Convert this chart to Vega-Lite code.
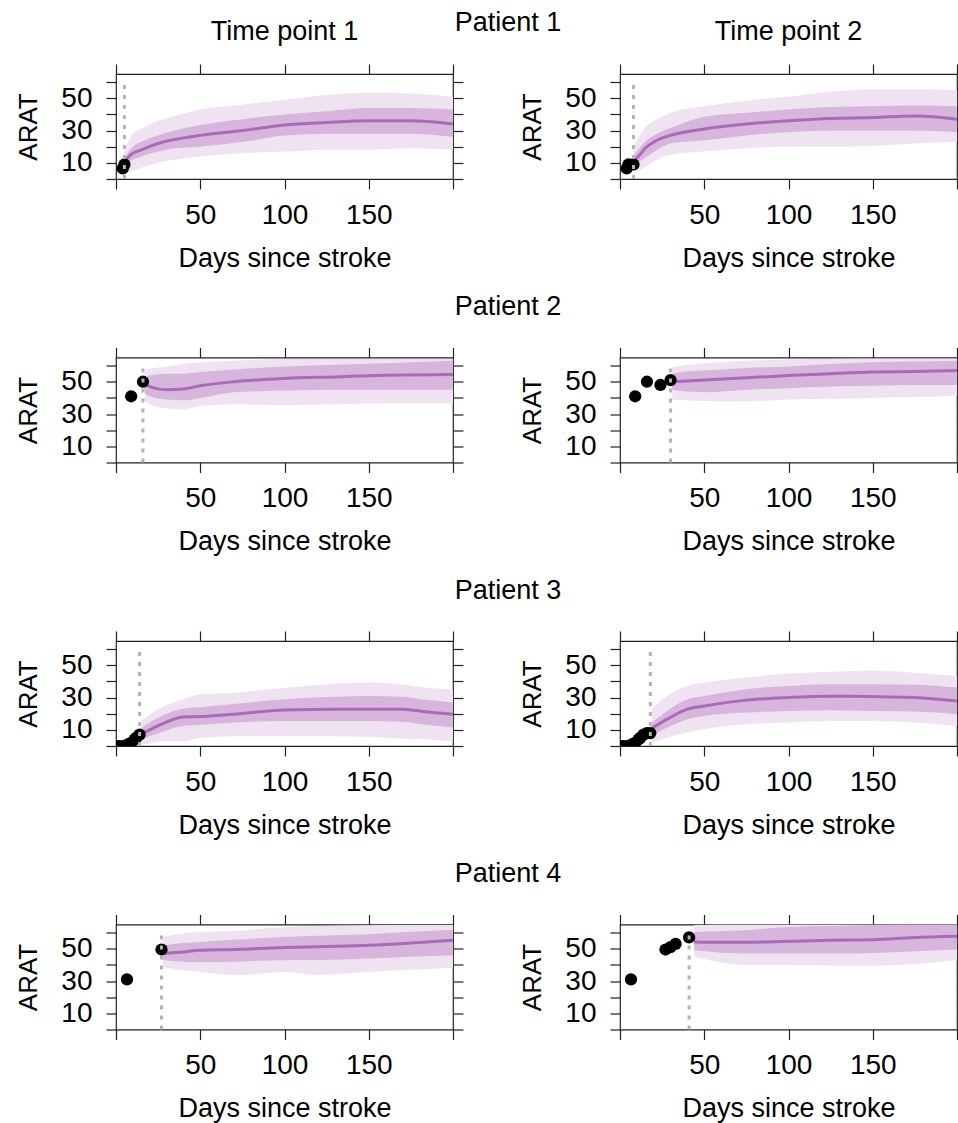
{
"$schema": "https://vega.github.io/schema/vega-lite/v6.json",
"padding": {"left": 14, "top": 8, "right": 0, "bottom": 0},
"config": {
  "font": "Liberation Sans",
  "view": {"stroke": "#222", "strokeWidth": 1.2},
  "axis": {"grid": false, "domain": false, "tickColor": "#222", "tickSize": 10, "tickWidth": 1.2, "labelFontSize": 28, "labelColor": "#000", "titleFontSize": 27, "titleFontWeight": "normal", "titleColor": "#000", "labelFont": "Liberation Sans", "titleFont": "Liberation Sans"},
  "title": {"fontSize": 27, "fontWeight": "normal", "color": "#000", "font": "Liberation Sans"},
  "area": {"interpolate": "monotone"},
  "line": {"interpolate": "monotone"}
},
"datasets": {
  "bands": [
    {"p":1,"t":1,"day":5,"lo95":4,"lo50":9,"med":11,"hi50":13,"hi95":17},
    {"p":1,"t":1,"day":10,"lo95":5,"lo50":12,"med":16,"hi50":20,"hi95":28},
    {"p":1,"t":1,"day":15,"lo95":7,"lo50":14,"med":18,"hi50":23,"hi95":31},
    {"p":1,"t":1,"day":25,"lo95":10,"lo50":17,"med":22,"hi50":27,"hi95":36},
    {"p":1,"t":1,"day":35,"lo95":12,"lo50":19,"med":24.5,"hi50":30,"hi95":39},
    {"p":1,"t":1,"day":50,"lo95":14,"lo50":20,"med":27,"hi50":33.5,"hi95":43},
    {"p":1,"t":1,"day":75,"lo95":16,"lo50":23,"med":30,"hi50":37,"hi95":46},
    {"p":1,"t":1,"day":100,"lo95":17,"lo50":27,"med":33.5,"hi50":40,"hi95":49},
    {"p":1,"t":1,"day":125,"lo95":18,"lo50":28,"med":35,"hi50":42,"hi95":52},
    {"p":1,"t":1,"day":150,"lo95":18,"lo50":28,"med":36,"hi50":44,"hi95":53.5},
    {"p":1,"t":1,"day":175,"lo95":19,"lo50":28,"med":36,"hi50":44,"hi95":53},
    {"p":1,"t":1,"day":200,"lo95":18,"lo50":26,"med":34,"hi50":43,"hi95":51},

    {"p":1,"t":2,"day":8,"lo95":5,"lo50":9,"med":11,"hi50":14,"hi95":20},
    {"p":1,"t":2,"day":10,"lo95":5,"lo50":10,"med":13,"hi50":17,"hi95":24},
    {"p":1,"t":2,"day":16,"lo95":8,"lo50":14,"med":20,"hi50":24,"hi95":33},
    {"p":1,"t":2,"day":22,"lo95":12,"lo50":18,"med":24,"hi50":28,"hi95":37},
    {"p":1,"t":2,"day":30,"lo95":15,"lo50":22,"med":27,"hi50":31.5,"hi95":41},
    {"p":1,"t":2,"day":50,"lo95":17,"lo50":24,"med":31,"hi50":38.5,"hi95":45},
    {"p":1,"t":2,"day":75,"lo95":19,"lo50":27,"med":34,"hi50":41,"hi95":48.5},
    {"p":1,"t":2,"day":100,"lo95":20,"lo50":29,"med":36,"hi50":43,"hi95":51},
    {"p":1,"t":2,"day":125,"lo95":20,"lo50":30,"med":37.5,"hi50":44.5,"hi95":54},
    {"p":1,"t":2,"day":150,"lo95":20.5,"lo50":30,"med":38,"hi50":45,"hi95":55.5},
    {"p":1,"t":2,"day":175,"lo95":22,"lo50":30,"med":39,"hi50":45.5,"hi95":55.5},
    {"p":1,"t":2,"day":200,"lo95":23,"lo50":29,"med":37,"hi50":45,"hi95":55},

    {"p":2,"t":1,"day":17,"lo95":38,"lo50":43,"med":49,"hi50":52,"hi95":57},
    {"p":2,"t":1,"day":20,"lo95":36,"lo50":41,"med":47,"hi50":54,"hi95":58},
    {"p":2,"t":1,"day":30,"lo95":33.5,"lo50":39,"med":45,"hi50":55,"hi95":59.5},
    {"p":2,"t":1,"day":40,"lo95":33,"lo50":38.5,"med":45.5,"hi50":55,"hi95":61},
    {"p":2,"t":1,"day":50,"lo95":35,"lo50":40,"med":47.5,"hi50":56,"hi95":62},
    {"p":2,"t":1,"day":70,"lo95":36,"lo50":43.5,"med":50,"hi50":57.5,"hi95":63},
    {"p":2,"t":1,"day":100,"lo95":35.5,"lo50":44.5,"med":52,"hi50":59.5,"hi95":64},
    {"p":2,"t":1,"day":130,"lo95":36,"lo50":45,"med":53,"hi50":60.5,"hi95":64},
    {"p":2,"t":1,"day":160,"lo95":36.5,"lo50":45,"med":54,"hi50":61.5,"hi95":64},
    {"p":2,"t":1,"day":200,"lo95":36.5,"lo50":45,"med":54.5,"hi50":63,"hi95":64},

    {"p":2,"t":2,"day":31,"lo95":39,"lo50":45,"med":50,"hi50":55,"hi95":59},
    {"p":2,"t":2,"day":40,"lo95":38.5,"lo50":44,"med":50.5,"hi50":56.5,"hi95":60.5},
    {"p":2,"t":2,"day":50,"lo95":38,"lo50":43.5,"med":51,"hi50":57,"hi95":61.5},
    {"p":2,"t":2,"day":75,"lo95":37.8,"lo50":45,"med":52.5,"hi50":58.5,"hi95":63},
    {"p":2,"t":2,"day":100,"lo95":39,"lo50":46,"med":53.8,"hi50":59.5,"hi95":63.8},
    {"p":2,"t":2,"day":125,"lo95":39.5,"lo50":47,"med":55,"hi50":61,"hi95":64},
    {"p":2,"t":2,"day":150,"lo95":40,"lo50":47.5,"med":56,"hi50":62,"hi95":64.2},
    {"p":2,"t":2,"day":175,"lo95":40.5,"lo50":48,"med":56.3,"hi50":62.5,"hi95":64.2},
    {"p":2,"t":2,"day":200,"lo95":41.5,"lo50":48,"med":57,"hi50":63,"hi95":64.2},

    {"p":3,"t":1,"day":15,"lo95":1,"lo50":4,"med":7.5,"hi50":11,"hi95":16},
    {"p":3,"t":1,"day":20,"lo95":1.5,"lo50":6,"med":10,"hi50":14.5,"hi95":19.5},
    {"p":3,"t":1,"day":27,"lo95":3,"lo50":8.5,"med":13.5,"hi50":18.5,"hi95":24},
    {"p":3,"t":1,"day":40,"lo95":3,"lo50":12.5,"med":18,"hi50":23,"hi95":29},
    {"p":3,"t":1,"day":50,"lo95":5,"lo50":13,"med":18.2,"hi50":24,"hi95":32},
    {"p":3,"t":1,"day":70,"lo95":6,"lo50":14.5,"med":19.7,"hi50":26,"hi95":33},
    {"p":3,"t":1,"day":100,"lo95":6,"lo50":15.5,"med":22.3,"hi50":29,"hi95":36},
    {"p":3,"t":1,"day":130,"lo95":6,"lo50":15.5,"med":22.8,"hi50":30.5,"hi95":38.5},
    {"p":3,"t":1,"day":150,"lo95":5.5,"lo50":15.5,"med":22.8,"hi50":31,"hi95":39.5},
    {"p":3,"t":1,"day":170,"lo95":4.5,"lo50":15,"med":22.8,"hi50":30.5,"hi95":38},
    {"p":3,"t":1,"day":185,"lo95":4,"lo50":13,"med":21,"hi50":28.5,"hi95":36},
    {"p":3,"t":1,"day":200,"lo95":3,"lo50":11.5,"med":19.7,"hi50":27,"hi95":35},

    {"p":3,"t":2,"day":19,"lo95":2,"lo50":6.2,"med":11,"hi50":14.5,"hi95":23},
    {"p":3,"t":2,"day":28,"lo95":5.2,"lo50":11.4,"med":16.6,"hi50":21.7,"hi95":31},
    {"p":3,"t":2,"day":40,"lo95":8.3,"lo50":16.6,"med":22.8,"hi50":29,"hi95":37.2},
    {"p":3,"t":2,"day":50,"lo95":10.3,"lo50":18.6,"med":24.8,"hi50":31,"hi95":39.3},
    {"p":3,"t":2,"day":75,"lo95":13.4,"lo50":20.7,"med":28.4,"hi50":35.2,"hi95":42.4},
    {"p":3,"t":2,"day":100,"lo95":14.5,"lo50":21.7,"med":30,"hi50":37.2,"hi95":44.9},
    {"p":3,"t":2,"day":125,"lo95":15.5,"lo50":22.1,"med":30.8,"hi50":38.3,"hi95":46},
    {"p":3,"t":2,"day":150,"lo95":15.5,"lo50":21.7,"med":30.6,"hi50":38.3,"hi95":46.8},
    {"p":3,"t":2,"day":175,"lo95":14.5,"lo50":21.3,"med":30,"hi50":37.9,"hi95":45.4},
    {"p":3,"t":2,"day":200,"lo95":12.4,"lo50":19.7,"med":27.9,"hi50":36.2,"hi95":43.4},

    {"p":4,"t":1,"day":28,"lo95":38.5,"lo50":43,"med":47,"hi50":52,"hi95":57.5},
    {"p":4,"t":1,"day":40,"lo95":36.5,"lo50":42,"med":48,"hi50":53.5,"hi95":59.5},
    {"p":4,"t":1,"day":50,"lo95":35.6,"lo50":41.8,"med":49,"hi50":54.2,"hi95":60.4},
    {"p":4,"t":1,"day":70,"lo95":33.6,"lo50":42,"med":49.5,"hi50":55.5,"hi95":61},
    {"p":4,"t":1,"day":100,"lo95":35.6,"lo50":42.9,"med":50.7,"hi50":57.3,"hi95":63.5},
    {"p":4,"t":1,"day":120,"lo95":33.8,"lo50":43,"med":51.3,"hi50":58,"hi95":64},
    {"p":4,"t":1,"day":150,"lo95":35.6,"lo50":43.9,"med":52.1,"hi50":58.9,"hi95":64.5},
    {"p":4,"t":1,"day":175,"lo95":37,"lo50":45,"med":53.5,"hi50":60.5,"hi95":64.7},
    {"p":4,"t":1,"day":200,"lo95":38.3,"lo50":45.9,"med":55.2,"hi50":61.8,"hi95":64.7},

    {"p":4,"t":2,"day":44,"lo95":45,"lo50":49,"med":54.2,"hi50":60.4,"hi95":64.7},
    {"p":4,"t":2,"day":60,"lo95":41.5,"lo50":47.5,"med":54,"hi50":61,"hi95":65},
    {"p":4,"t":2,"day":75,"lo95":40,"lo50":47,"med":54,"hi50":61.5,"hi95":65},
    {"p":4,"t":2,"day":100,"lo95":40,"lo50":47,"med":54.6,"hi50":63.5,"hi95":65},
    {"p":4,"t":2,"day":125,"lo95":39.5,"lo50":47,"med":55.2,"hi50":64,"hi95":65},
    {"p":4,"t":2,"day":150,"lo95":39.3,"lo50":47.4,"med":55.6,"hi50":64.7,"hi95":65},
    {"p":4,"t":2,"day":175,"lo95":40.5,"lo50":48.5,"med":56.9,"hi50":65,"hi95":65},
    {"p":4,"t":2,"day":200,"lo95":42.9,"lo50":49.5,"med":57.7,"hi50":65,"hi95":65}
  ],
  "obs": [
    {"p":1,"t":1,"day":4,"arat":6.5},{"p":1,"t":1,"day":5,"arat":9},
    {"p":1,"t":2,"day":4,"arat":6.5},{"p":1,"t":2,"day":5,"arat":9},{"p":1,"t":2,"day":8,"arat":9},
    {"p":2,"t":1,"day":9,"arat":41},{"p":2,"t":1,"day":16,"arat":50},
    {"p":2,"t":2,"day":9,"arat":41},{"p":2,"t":2,"day":16,"arat":50},{"p":2,"t":2,"day":24,"arat":48},{"p":2,"t":2,"day":30,"arat":51},
    {"p":3,"t":1,"day":1,"arat":0},{"p":3,"t":1,"day":3,"arat":0},{"p":3,"t":1,"day":5,"arat":0},{"p":3,"t":1,"day":7,"arat":1},{"p":3,"t":1,"day":9,"arat":2},{"p":3,"t":1,"day":11,"arat":4},{"p":3,"t":1,"day":12,"arat":5},{"p":3,"t":1,"day":14,"arat":7},
    {"p":3,"t":2,"day":1,"arat":0},{"p":3,"t":2,"day":3,"arat":0},{"p":3,"t":2,"day":5,"arat":0},{"p":3,"t":2,"day":7,"arat":1},{"p":3,"t":2,"day":9,"arat":2},{"p":3,"t":2,"day":11,"arat":4},{"p":3,"t":2,"day":12,"arat":5},{"p":3,"t":2,"day":14,"arat":7},{"p":3,"t":2,"day":16,"arat":8},{"p":3,"t":2,"day":18,"arat":8},
    {"p":4,"t":1,"day":6.5,"arat":31},{"p":4,"t":1,"day":27,"arat":49.5},
    {"p":4,"t":2,"day":6.5,"arat":31},{"p":4,"t":2,"day":27,"arat":49.5},{"p":4,"t":2,"day":30,"arat":51},{"p":4,"t":2,"day":33,"arat":53},{"p":4,"t":2,"day":41,"arat":57}
  ],
  "cuts": [
    {"p":1,"t":1,"day":5},{"p":1,"t":2,"day":8},
    {"p":2,"t":1,"day":16},{"p":2,"t":2,"day":30},
    {"p":3,"t":1,"day":14},{"p":3,"t":2,"day":18},
    {"p":4,"t":1,"day":27},{"p":4,"t":2,"day":41}
  ]
},
"spacing": 283.5,
"bounds": "flush",
"vconcat": [
  {"title": {"text": "Patient 1", "frame": "group", "anchor": "middle", "baseline": "alphabetic", "offset": -40, "dx": 392},
   "spacing": 167, "bounds": "flush",
   "hconcat": [
    {"width": 337, "height": 105,
     "title": {"text": "Time point 1", "frame": "group", "anchor": "middle", "baseline": "alphabetic", "offset": -4},
     "layer": [
      {"data": {"name": "bands"}, "transform": [{"filter": "datum.p==1 && datum.t==1"}], "mark": {"type": "area", "color": "#efe3f1", "clip": true},
       "encoding": {"x": {"field": "day", "type": "quantitative", "scale": {"domain": [0,200], "nice": false, "zero": false}, "axis": {"orient":"bottom","values":[0,50,100,150,200],"labelExpr":"datum.value==0||datum.value==200?'':datum.label","title":"Days since stroke","labelPadding":12,"titleBaseline":"alphabetic","titleY":87,"labelFlush":false}},
                    "y": {"field": "hi95", "type": "quantitative", "scale": {"domain": [0,65], "nice": false, "zero": false}, "axis": {"orient":"left","values":[0,10,20,30,40,50,60],"labelExpr":"datum.value%20==10?datum.label:''","title":"ARAT","titleX":-88,"titleY":52.5,"titleBaseline":"middle","titleFontSize":26,"labelPadding":14}},
                    "y2": {"field": "lo95"}}},
      {"data": {"name": "bands"}, "transform": [{"filter": "datum.p==1 && datum.t==1"}], "mark": {"type": "area", "color": "#d7b5dc", "clip": true},
       "encoding": {"x": {"field": "day", "type": "quantitative", "scale": {"domain": [0,200], "nice": false, "zero": false}, "axis": null},
                    "y": {"field": "hi50", "type": "quantitative", "scale": {"domain": [0,65], "nice": false, "zero": false}, "axis": null},
                    "y2": {"field": "lo50"}}},
      {"data": {"name": "bands"}, "transform": [{"filter": "datum.p==1 && datum.t==1"}], "mark": {"type": "line", "color": "#a86cb6", "strokeWidth": 3, "clip": true},
       "encoding": {"x": {"field": "day", "type": "quantitative", "scale": {"domain": [0,200], "nice": false, "zero": false}, "axis": {"orient":"top","values":[0,50,100,150,200],"labels":false,"title":null}},
                    "y": {"field": "med", "type": "quantitative", "scale": {"domain": [0,65], "nice": false, "zero": false}, "axis": {"orient":"right","values":[0,10,20,30,40,50,60],"labels":false,"title":null}}}},
      {"data": {"name": "obs"}, "transform": [{"filter": "datum.p==1 && datum.t==1"}], "mark": {"type": "circle", "color": "#000", "opacity": 1, "size": 150, "clip": true},
       "encoding": {"x": {"field": "day", "type": "quantitative", "scale": {"domain": [0,200], "nice": false, "zero": false}, "axis": null},
                    "y": {"field": "arat", "type": "quantitative", "scale": {"domain": [0,65], "nice": false, "zero": false}, "axis": null}}},
      {"data": {"name": "cuts"}, "transform": [{"filter": "datum.p==1 && datum.t==1"}], "mark": {"type": "rule", "color": "#b3b3b3", "strokeWidth": 3, "strokeDash": [4,6]},
       "encoding": {"x": {"field": "day", "type": "quantitative", "scale": {"domain": [0,200], "nice": false, "zero": false}, "axis": null},
                    "y": {"datum": 0, "type": "quantitative", "scale": {"domain": [0,65], "nice": false, "zero": false}, "axis": null}, "y2": {"datum": 60}}}
     ],
     "resolve": {"axis": {"x": "independent", "y": "independent"}}},
    {"width": 337, "height": 105,
     "title": {"text": "Time point 2", "frame": "group", "anchor": "middle", "baseline": "alphabetic", "offset": -4},
     "layer": [
      {"data": {"name": "bands"}, "transform": [{"filter": "datum.p==1 && datum.t==2"}], "mark": {"type": "area", "color": "#efe3f1", "clip": true},
       "encoding": {"x": {"field": "day", "type": "quantitative", "scale": {"domain": [0,200], "nice": false, "zero": false}, "axis": {"orient":"bottom","values":[0,50,100,150,200],"labelExpr":"datum.value==0||datum.value==200?'':datum.label","title":"Days since stroke","labelPadding":12,"titleBaseline":"alphabetic","titleY":87,"labelFlush":false}},
                    "y": {"field": "hi95", "type": "quantitative", "scale": {"domain": [0,65], "nice": false, "zero": false}, "axis": {"orient":"left","values":[0,10,20,30,40,50,60],"labelExpr":"datum.value%20==10?datum.label:''","title":"ARAT","titleX":-88,"titleY":52.5,"titleBaseline":"middle","titleFontSize":26,"labelPadding":14}},
                    "y2": {"field": "lo95"}}},
      {"data": {"name": "bands"}, "transform": [{"filter": "datum.p==1 && datum.t==2"}], "mark": {"type": "area", "color": "#d7b5dc", "clip": true},
       "encoding": {"x": {"field": "day", "type": "quantitative", "scale": {"domain": [0,200], "nice": false, "zero": false}, "axis": null},
                    "y": {"field": "hi50", "type": "quantitative", "scale": {"domain": [0,65], "nice": false, "zero": false}, "axis": null},
                    "y2": {"field": "lo50"}}},
      {"data": {"name": "bands"}, "transform": [{"filter": "datum.p==1 && datum.t==2"}], "mark": {"type": "line", "color": "#a86cb6", "strokeWidth": 3, "clip": true},
       "encoding": {"x": {"field": "day", "type": "quantitative", "scale": {"domain": [0,200], "nice": false, "zero": false}, "axis": {"orient":"top","values":[0,50,100,150,200],"labels":false,"title":null}},
                    "y": {"field": "med", "type": "quantitative", "scale": {"domain": [0,65], "nice": false, "zero": false}, "axis": {"orient":"right","values":[0,10,20,30,40,50,60],"labels":false,"title":null}}}},
      {"data": {"name": "obs"}, "transform": [{"filter": "datum.p==1 && datum.t==2"}], "mark": {"type": "circle", "color": "#000", "opacity": 1, "size": 150, "clip": true},
       "encoding": {"x": {"field": "day", "type": "quantitative", "scale": {"domain": [0,200], "nice": false, "zero": false}, "axis": null},
                    "y": {"field": "arat", "type": "quantitative", "scale": {"domain": [0,65], "nice": false, "zero": false}, "axis": null}}},
      {"data": {"name": "cuts"}, "transform": [{"filter": "datum.p==1 && datum.t==2"}], "mark": {"type": "rule", "color": "#b3b3b3", "strokeWidth": 3, "strokeDash": [4,6]},
       "encoding": {"x": {"field": "day", "type": "quantitative", "scale": {"domain": [0,200], "nice": false, "zero": false}, "axis": null},
                    "y": {"datum": 0, "type": "quantitative", "scale": {"domain": [0,65], "nice": false, "zero": false}, "axis": null}, "y2": {"datum": 60}}}
     ],
     "resolve": {"axis": {"x": "independent", "y": "independent"}}}
   ]},
  {"title": {"text": "Patient 2", "frame": "group", "anchor": "middle", "baseline": "alphabetic", "offset": 4, "dx": 392},
   "spacing": 167, "bounds": "flush",
   "hconcat": [
    {"width": 337, "height": 105,
     "layer": [
      {"data": {"name": "bands"}, "transform": [{"filter": "datum.p==2 && datum.t==1"}], "mark": {"type": "area", "color": "#efe3f1", "clip": true},
       "encoding": {"x": {"field": "day", "type": "quantitative", "scale": {"domain": [0,200], "nice": false, "zero": false}, "axis": {"orient":"bottom","values":[0,50,100,150,200],"labelExpr":"datum.value==0||datum.value==200?'':datum.label","title":"Days since stroke","labelPadding":12,"titleBaseline":"alphabetic","titleY":87,"labelFlush":false}},
                    "y": {"field": "hi95", "type": "quantitative", "scale": {"domain": [0,65], "nice": false, "zero": false}, "axis": {"orient":"left","values":[0,10,20,30,40,50,60],"labelExpr":"datum.value%20==10?datum.label:''","title":"ARAT","titleX":-88,"titleY":52.5,"titleBaseline":"middle","titleFontSize":26,"labelPadding":14}},
                    "y2": {"field": "lo95"}}},
      {"data": {"name": "bands"}, "transform": [{"filter": "datum.p==2 && datum.t==1"}], "mark": {"type": "area", "color": "#d7b5dc", "clip": true},
       "encoding": {"x": {"field": "day", "type": "quantitative", "scale": {"domain": [0,200], "nice": false, "zero": false}, "axis": null},
                    "y": {"field": "hi50", "type": "quantitative", "scale": {"domain": [0,65], "nice": false, "zero": false}, "axis": null},
                    "y2": {"field": "lo50"}}},
      {"data": {"name": "bands"}, "transform": [{"filter": "datum.p==2 && datum.t==1"}], "mark": {"type": "line", "color": "#a86cb6", "strokeWidth": 3, "clip": true},
       "encoding": {"x": {"field": "day", "type": "quantitative", "scale": {"domain": [0,200], "nice": false, "zero": false}, "axis": {"orient":"top","values":[0,50,100,150,200],"labels":false,"title":null}},
                    "y": {"field": "med", "type": "quantitative", "scale": {"domain": [0,65], "nice": false, "zero": false}, "axis": {"orient":"right","values":[0,10,20,30,40,50,60],"labels":false,"title":null}}}},
      {"data": {"name": "obs"}, "transform": [{"filter": "datum.p==2 && datum.t==1"}], "mark": {"type": "circle", "color": "#000", "opacity": 1, "size": 150, "clip": true},
       "encoding": {"x": {"field": "day", "type": "quantitative", "scale": {"domain": [0,200], "nice": false, "zero": false}, "axis": null},
                    "y": {"field": "arat", "type": "quantitative", "scale": {"domain": [0,65], "nice": false, "zero": false}, "axis": null}}},
      {"data": {"name": "cuts"}, "transform": [{"filter": "datum.p==2 && datum.t==1"}], "mark": {"type": "rule", "color": "#b3b3b3", "strokeWidth": 3, "strokeDash": [4,6]},
       "encoding": {"x": {"field": "day", "type": "quantitative", "scale": {"domain": [0,200], "nice": false, "zero": false}, "axis": null},
                    "y": {"datum": 0, "type": "quantitative", "scale": {"domain": [0,65], "nice": false, "zero": false}, "axis": null}, "y2": {"datum": 60}}}
     ],
     "resolve": {"axis": {"x": "independent", "y": "independent"}}},
    {"width": 337, "height": 105,
     "layer": [
      {"data": {"name": "bands"}, "transform": [{"filter": "datum.p==2 && datum.t==2"}], "mark": {"type": "area", "color": "#efe3f1", "clip": true},
       "encoding": {"x": {"field": "day", "type": "quantitative", "scale": {"domain": [0,200], "nice": false, "zero": false}, "axis": {"orient":"bottom","values":[0,50,100,150,200],"labelExpr":"datum.value==0||datum.value==200?'':datum.label","title":"Days since stroke","labelPadding":12,"titleBaseline":"alphabetic","titleY":87,"labelFlush":false}},
                    "y": {"field": "hi95", "type": "quantitative", "scale": {"domain": [0,65], "nice": false, "zero": false}, "axis": {"orient":"left","values":[0,10,20,30,40,50,60],"labelExpr":"datum.value%20==10?datum.label:''","title":"ARAT","titleX":-88,"titleY":52.5,"titleBaseline":"middle","titleFontSize":26,"labelPadding":14}},
                    "y2": {"field": "lo95"}}},
      {"data": {"name": "bands"}, "transform": [{"filter": "datum.p==2 && datum.t==2"}], "mark": {"type": "area", "color": "#d7b5dc", "clip": true},
       "encoding": {"x": {"field": "day", "type": "quantitative", "scale": {"domain": [0,200], "nice": false, "zero": false}, "axis": null},
                    "y": {"field": "hi50", "type": "quantitative", "scale": {"domain": [0,65], "nice": false, "zero": false}, "axis": null},
                    "y2": {"field": "lo50"}}},
      {"data": {"name": "bands"}, "transform": [{"filter": "datum.p==2 && datum.t==2"}], "mark": {"type": "line", "color": "#a86cb6", "strokeWidth": 3, "clip": true},
       "encoding": {"x": {"field": "day", "type": "quantitative", "scale": {"domain": [0,200], "nice": false, "zero": false}, "axis": {"orient":"top","values":[0,50,100,150,200],"labels":false,"title":null}},
                    "y": {"field": "med", "type": "quantitative", "scale": {"domain": [0,65], "nice": false, "zero": false}, "axis": {"orient":"right","values":[0,10,20,30,40,50,60],"labels":false,"title":null}}}},
      {"data": {"name": "obs"}, "transform": [{"filter": "datum.p==2 && datum.t==2"}], "mark": {"type": "circle", "color": "#000", "opacity": 1, "size": 150, "clip": true},
       "encoding": {"x": {"field": "day", "type": "quantitative", "scale": {"domain": [0,200], "nice": false, "zero": false}, "axis": null},
                    "y": {"field": "arat", "type": "quantitative", "scale": {"domain": [0,65], "nice": false, "zero": false}, "axis": null}}},
      {"data": {"name": "cuts"}, "transform": [{"filter": "datum.p==2 && datum.t==2"}], "mark": {"type": "rule", "color": "#b3b3b3", "strokeWidth": 3, "strokeDash": [4,6]},
       "encoding": {"x": {"field": "day", "type": "quantitative", "scale": {"domain": [0,200], "nice": false, "zero": false}, "axis": null},
                    "y": {"datum": 0, "type": "quantitative", "scale": {"domain": [0,65], "nice": false, "zero": false}, "axis": null}, "y2": {"datum": 60}}}
     ],
     "resolve": {"axis": {"x": "independent", "y": "independent"}}}
   ]},
  {"title": {"text": "Patient 3", "frame": "group", "anchor": "middle", "baseline": "alphabetic", "offset": 4, "dx": 392},
   "spacing": 167, "bounds": "flush",
   "hconcat": [
    {"width": 337, "height": 105,
     "layer": [
      {"data": {"name": "bands"}, "transform": [{"filter": "datum.p==3 && datum.t==1"}], "mark": {"type": "area", "color": "#efe3f1", "clip": true},
       "encoding": {"x": {"field": "day", "type": "quantitative", "scale": {"domain": [0,200], "nice": false, "zero": false}, "axis": {"orient":"bottom","values":[0,50,100,150,200],"labelExpr":"datum.value==0||datum.value==200?'':datum.label","title":"Days since stroke","labelPadding":12,"titleBaseline":"alphabetic","titleY":87,"labelFlush":false}},
                    "y": {"field": "hi95", "type": "quantitative", "scale": {"domain": [0,65], "nice": false, "zero": false}, "axis": {"orient":"left","values":[0,10,20,30,40,50,60],"labelExpr":"datum.value%20==10?datum.label:''","title":"ARAT","titleX":-88,"titleY":52.5,"titleBaseline":"middle","titleFontSize":26,"labelPadding":14}},
                    "y2": {"field": "lo95"}}},
      {"data": {"name": "bands"}, "transform": [{"filter": "datum.p==3 && datum.t==1"}], "mark": {"type": "area", "color": "#d7b5dc", "clip": true},
       "encoding": {"x": {"field": "day", "type": "quantitative", "scale": {"domain": [0,200], "nice": false, "zero": false}, "axis": null},
                    "y": {"field": "hi50", "type": "quantitative", "scale": {"domain": [0,65], "nice": false, "zero": false}, "axis": null},
                    "y2": {"field": "lo50"}}},
      {"data": {"name": "bands"}, "transform": [{"filter": "datum.p==3 && datum.t==1"}], "mark": {"type": "line", "color": "#a86cb6", "strokeWidth": 3, "clip": true},
       "encoding": {"x": {"field": "day", "type": "quantitative", "scale": {"domain": [0,200], "nice": false, "zero": false}, "axis": {"orient":"top","values":[0,50,100,150,200],"labels":false,"title":null}},
                    "y": {"field": "med", "type": "quantitative", "scale": {"domain": [0,65], "nice": false, "zero": false}, "axis": {"orient":"right","values":[0,10,20,30,40,50,60],"labels":false,"title":null}}}},
      {"data": {"name": "obs"}, "transform": [{"filter": "datum.p==3 && datum.t==1"}], "mark": {"type": "circle", "color": "#000", "opacity": 1, "size": 150, "clip": true},
       "encoding": {"x": {"field": "day", "type": "quantitative", "scale": {"domain": [0,200], "nice": false, "zero": false}, "axis": null},
                    "y": {"field": "arat", "type": "quantitative", "scale": {"domain": [0,65], "nice": false, "zero": false}, "axis": null}}},
      {"data": {"name": "cuts"}, "transform": [{"filter": "datum.p==3 && datum.t==1"}], "mark": {"type": "rule", "color": "#b3b3b3", "strokeWidth": 3, "strokeDash": [4,6]},
       "encoding": {"x": {"field": "day", "type": "quantitative", "scale": {"domain": [0,200], "nice": false, "zero": false}, "axis": null},
                    "y": {"datum": 0, "type": "quantitative", "scale": {"domain": [0,65], "nice": false, "zero": false}, "axis": null}, "y2": {"datum": 60}}}
     ],
     "resolve": {"axis": {"x": "independent", "y": "independent"}}},
    {"width": 337, "height": 105,
     "layer": [
      {"data": {"name": "bands"}, "transform": [{"filter": "datum.p==3 && datum.t==2"}], "mark": {"type": "area", "color": "#efe3f1", "clip": true},
       "encoding": {"x": {"field": "day", "type": "quantitative", "scale": {"domain": [0,200], "nice": false, "zero": false}, "axis": {"orient":"bottom","values":[0,50,100,150,200],"labelExpr":"datum.value==0||datum.value==200?'':datum.label","title":"Days since stroke","labelPadding":12,"titleBaseline":"alphabetic","titleY":87,"labelFlush":false}},
                    "y": {"field": "hi95", "type": "quantitative", "scale": {"domain": [0,65], "nice": false, "zero": false}, "axis": {"orient":"left","values":[0,10,20,30,40,50,60],"labelExpr":"datum.value%20==10?datum.label:''","title":"ARAT","titleX":-88,"titleY":52.5,"titleBaseline":"middle","titleFontSize":26,"labelPadding":14}},
                    "y2": {"field": "lo95"}}},
      {"data": {"name": "bands"}, "transform": [{"filter": "datum.p==3 && datum.t==2"}], "mark": {"type": "area", "color": "#d7b5dc", "clip": true},
       "encoding": {"x": {"field": "day", "type": "quantitative", "scale": {"domain": [0,200], "nice": false, "zero": false}, "axis": null},
                    "y": {"field": "hi50", "type": "quantitative", "scale": {"domain": [0,65], "nice": false, "zero": false}, "axis": null},
                    "y2": {"field": "lo50"}}},
      {"data": {"name": "bands"}, "transform": [{"filter": "datum.p==3 && datum.t==2"}], "mark": {"type": "line", "color": "#a86cb6", "strokeWidth": 3, "clip": true},
       "encoding": {"x": {"field": "day", "type": "quantitative", "scale": {"domain": [0,200], "nice": false, "zero": false}, "axis": {"orient":"top","values":[0,50,100,150,200],"labels":false,"title":null}},
                    "y": {"field": "med", "type": "quantitative", "scale": {"domain": [0,65], "nice": false, "zero": false}, "axis": {"orient":"right","values":[0,10,20,30,40,50,60],"labels":false,"title":null}}}},
      {"data": {"name": "obs"}, "transform": [{"filter": "datum.p==3 && datum.t==2"}], "mark": {"type": "circle", "color": "#000", "opacity": 1, "size": 150, "clip": true},
       "encoding": {"x": {"field": "day", "type": "quantitative", "scale": {"domain": [0,200], "nice": false, "zero": false}, "axis": null},
                    "y": {"field": "arat", "type": "quantitative", "scale": {"domain": [0,65], "nice": false, "zero": false}, "axis": null}}},
      {"data": {"name": "cuts"}, "transform": [{"filter": "datum.p==3 && datum.t==2"}], "mark": {"type": "rule", "color": "#b3b3b3", "strokeWidth": 3, "strokeDash": [4,6]},
       "encoding": {"x": {"field": "day", "type": "quantitative", "scale": {"domain": [0,200], "nice": false, "zero": false}, "axis": null},
                    "y": {"datum": 0, "type": "quantitative", "scale": {"domain": [0,65], "nice": false, "zero": false}, "axis": null}, "y2": {"datum": 60}}}
     ],
     "resolve": {"axis": {"x": "independent", "y": "independent"}}}
   ]},
  {"title": {"text": "Patient 4", "frame": "group", "anchor": "middle", "baseline": "alphabetic", "offset": 4, "dx": 392},
   "spacing": 167, "bounds": "flush",
   "hconcat": [
    {"width": 337, "height": 105,
     "layer": [
      {"data": {"name": "bands"}, "transform": [{"filter": "datum.p==4 && datum.t==1"}], "mark": {"type": "area", "color": "#efe3f1", "clip": true},
       "encoding": {"x": {"field": "day", "type": "quantitative", "scale": {"domain": [0,200], "nice": false, "zero": false}, "axis": {"orient":"bottom","values":[0,50,100,150,200],"labelExpr":"datum.value==0||datum.value==200?'':datum.label","title":"Days since stroke","labelPadding":12,"titleBaseline":"alphabetic","titleY":87,"labelFlush":false}},
                    "y": {"field": "hi95", "type": "quantitative", "scale": {"domain": [0,65], "nice": false, "zero": false}, "axis": {"orient":"left","values":[0,10,20,30,40,50,60],"labelExpr":"datum.value%20==10?datum.label:''","title":"ARAT","titleX":-88,"titleY":52.5,"titleBaseline":"middle","titleFontSize":26,"labelPadding":14}},
                    "y2": {"field": "lo95"}}},
      {"data": {"name": "bands"}, "transform": [{"filter": "datum.p==4 && datum.t==1"}], "mark": {"type": "area", "color": "#d7b5dc", "clip": true},
       "encoding": {"x": {"field": "day", "type": "quantitative", "scale": {"domain": [0,200], "nice": false, "zero": false}, "axis": null},
                    "y": {"field": "hi50", "type": "quantitative", "scale": {"domain": [0,65], "nice": false, "zero": false}, "axis": null},
                    "y2": {"field": "lo50"}}},
      {"data": {"name": "bands"}, "transform": [{"filter": "datum.p==4 && datum.t==1"}], "mark": {"type": "line", "color": "#a86cb6", "strokeWidth": 3, "clip": true},
       "encoding": {"x": {"field": "day", "type": "quantitative", "scale": {"domain": [0,200], "nice": false, "zero": false}, "axis": {"orient":"top","values":[0,50,100,150,200],"labels":false,"title":null}},
                    "y": {"field": "med", "type": "quantitative", "scale": {"domain": [0,65], "nice": false, "zero": false}, "axis": {"orient":"right","values":[0,10,20,30,40,50,60],"labels":false,"title":null}}}},
      {"data": {"name": "obs"}, "transform": [{"filter": "datum.p==4 && datum.t==1"}], "mark": {"type": "circle", "color": "#000", "opacity": 1, "size": 150, "clip": true},
       "encoding": {"x": {"field": "day", "type": "quantitative", "scale": {"domain": [0,200], "nice": false, "zero": false}, "axis": null},
                    "y": {"field": "arat", "type": "quantitative", "scale": {"domain": [0,65], "nice": false, "zero": false}, "axis": null}}},
      {"data": {"name": "cuts"}, "transform": [{"filter": "datum.p==4 && datum.t==1"}], "mark": {"type": "rule", "color": "#b3b3b3", "strokeWidth": 3, "strokeDash": [4,6]},
       "encoding": {"x": {"field": "day", "type": "quantitative", "scale": {"domain": [0,200], "nice": false, "zero": false}, "axis": null},
                    "y": {"datum": 0, "type": "quantitative", "scale": {"domain": [0,65], "nice": false, "zero": false}, "axis": null}, "y2": {"datum": 60}}}
     ],
     "resolve": {"axis": {"x": "independent", "y": "independent"}}},
    {"width": 337, "height": 105,
     "layer": [
      {"data": {"name": "bands"}, "transform": [{"filter": "datum.p==4 && datum.t==2"}], "mark": {"type": "area", "color": "#efe3f1", "clip": true},
       "encoding": {"x": {"field": "day", "type": "quantitative", "scale": {"domain": [0,200], "nice": false, "zero": false}, "axis": {"orient":"bottom","values":[0,50,100,150,200],"labelExpr":"datum.value==0||datum.value==200?'':datum.label","title":"Days since stroke","labelPadding":12,"titleBaseline":"alphabetic","titleY":87,"labelFlush":false}},
                    "y": {"field": "hi95", "type": "quantitative", "scale": {"domain": [0,65], "nice": false, "zero": false}, "axis": {"orient":"left","values":[0,10,20,30,40,50,60],"labelExpr":"datum.value%20==10?datum.label:''","title":"ARAT","titleX":-88,"titleY":52.5,"titleBaseline":"middle","titleFontSize":26,"labelPadding":14}},
                    "y2": {"field": "lo95"}}},
      {"data": {"name": "bands"}, "transform": [{"filter": "datum.p==4 && datum.t==2"}], "mark": {"type": "area", "color": "#d7b5dc", "clip": true},
       "encoding": {"x": {"field": "day", "type": "quantitative", "scale": {"domain": [0,200], "nice": false, "zero": false}, "axis": null},
                    "y": {"field": "hi50", "type": "quantitative", "scale": {"domain": [0,65], "nice": false, "zero": false}, "axis": null},
                    "y2": {"field": "lo50"}}},
      {"data": {"name": "bands"}, "transform": [{"filter": "datum.p==4 && datum.t==2"}], "mark": {"type": "line", "color": "#a86cb6", "strokeWidth": 3, "clip": true},
       "encoding": {"x": {"field": "day", "type": "quantitative", "scale": {"domain": [0,200], "nice": false, "zero": false}, "axis": {"orient":"top","values":[0,50,100,150,200],"labels":false,"title":null}},
                    "y": {"field": "med", "type": "quantitative", "scale": {"domain": [0,65], "nice": false, "zero": false}, "axis": {"orient":"right","values":[0,10,20,30,40,50,60],"labels":false,"title":null}}}},
      {"data": {"name": "obs"}, "transform": [{"filter": "datum.p==4 && datum.t==2"}], "mark": {"type": "circle", "color": "#000", "opacity": 1, "size": 150, "clip": true},
       "encoding": {"x": {"field": "day", "type": "quantitative", "scale": {"domain": [0,200], "nice": false, "zero": false}, "axis": null},
                    "y": {"field": "arat", "type": "quantitative", "scale": {"domain": [0,65], "nice": false, "zero": false}, "axis": null}}},
      {"data": {"name": "cuts"}, "transform": [{"filter": "datum.p==4 && datum.t==2"}], "mark": {"type": "rule", "color": "#b3b3b3", "strokeWidth": 3, "strokeDash": [4,6]},
       "encoding": {"x": {"field": "day", "type": "quantitative", "scale": {"domain": [0,200], "nice": false, "zero": false}, "axis": null},
                    "y": {"datum": 0, "type": "quantitative", "scale": {"domain": [0,65], "nice": false, "zero": false}, "axis": null}, "y2": {"datum": 60}}}
     ],
     "resolve": {"axis": {"x": "independent", "y": "independent"}}}
   ]}
]
}
